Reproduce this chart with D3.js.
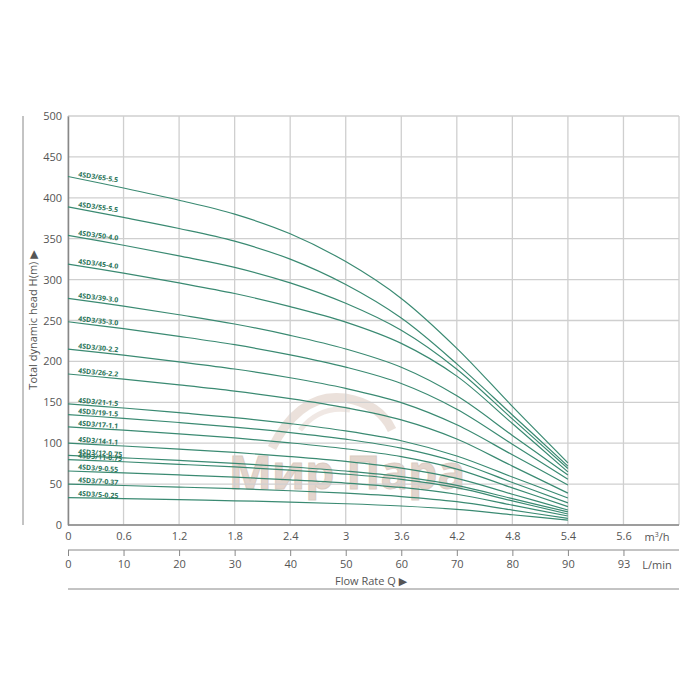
<!DOCTYPE html>
<html><head><meta charset="utf-8">
<script src="https://cdn.jsdelivr.net/npm/d3@7/dist/d3.min.js"></script>
<style>body{margin:0;background:#fff}svg{display:block}text{font-family:"Open Sans","DejaVu Sans",sans-serif}</style>
</head><body><svg id="c" width="700" height="700"></svg>
<script>
const flowQ = [0, 0.6, 1.2, 1.8, 2.4, 3.0, 3.6, 4.2, 4.8, 5.4];
const m3hTicks = ["0","0.6","1.2","1.8","2.4","3","3.6","4.2","4.8","5.4","5.6"];
const lminTicks = ["0","10","20","30","40","50","60","70","80","90","93"];
const headTicks = [0,50,100,150,200,250,300,350,400,450,500];
const models = ["4SD3/65-5.5","4SD3/55-5.5","4SD3/50-4.0","4SD3/45-4.0","4SD3/39-3.0","4SD3/35-3.0","4SD3/30-2.2","4SD3/26-2.2","4SD3/21-1.5","4SD3/19-1.5","4SD3/17-1.1","4SD3/14-1.1","4SD3/12-0.75","4SD3/11-0.75","4SD3/9-0.55","4SD3/7-0.37","4SD3/5-0.25"];
const heads = [
  [426, 412, 397, 380, 356, 322, 277, 216, 145, 76],
  [389, 376, 362.5, 347, 325, 294, 253, 197, 134.5, 72],
  [354, 342, 329, 315, 296, 271, 238, 190.5, 129.7, 69],
  [319, 308, 296, 283, 267, 248, 222, 182, 124, 65],
  [277, 267.6, 257, 245.7, 231.8, 215.2, 192.8, 157.9, 109.5, 61],
  [248.5, 240, 230.6, 220.4, 208, 193, 173, 141.6, 98.8, 56],
  [215, 207.7, 199.5, 190.7, 180, 167, 149.6, 122.5, 85.8, 49],
  [184.6, 178.3, 171.3, 163.7, 154.5, 143.4, 128.5, 105.2, 72, 39],
  [148, 143, 137.3, 131.3, 123.9, 115, 103, 84.4, 58.7, 33],
  [135, 130.4, 125.3, 119.7, 113, 104.9, 94, 77, 52, 27],
  [120, 115.9, 111.4, 106.4, 100.4, 93.2, 83.5, 68.4, 45.4, 22.4],
  [100, 96.6, 92.8, 88.7, 83.7, 77.7, 69.6, 57, 37.6, 18.3],
  [85, 82.1, 78.9, 75.4, 71.1, 66, 59.2, 48.5, 32.2, 16],
  [80, 77.3, 74.2, 71, 67, 62.2, 55.7, 45.6, 29.5, 13.4],
  [66, 63.8, 61.2, 58.5, 55.2, 51.3, 45.9, 37.6, 24.3, 11],
  [50, 48.3, 46.4, 44.4, 41.9, 38.9, 34.8, 28.5, 18.2, 8],
  [33.4, 32.3, 31, 29.6, 28, 26, 23.2, 19, 12.5, 6]
];

const svg = d3.select("#c");
const L = 68, R = 679, T = 116, B = 525;
const x = d3.scaleLinear().domain([0, 6.6]).range([L, R]);
const y = d3.scaleLinear().domain([0, 500]).range([B, T]);
const tickPos = m3hTicks.map((d, i) => i * 0.6);

const lineCol = "#3a8a72", labCol = "#2a7458", gridCol = "#cfcfcf", txtCol = "#555";

// watermark
const wm = svg.append("g").attr("opacity", 0.5);
wm.append("path").attr("d", "M272,448 Q300,392 345,398 Q380,404 392,430")
  .attr("fill", "none").attr("stroke", "#d8c4b8").attr("stroke-width", 9);
wm.append("path").attr("d", "M300,430 Q320,405 350,410")
  .attr("fill", "none").attr("stroke", "#e3d3ca").attr("stroke-width", 5);
wm.append("text").attr("x", 347).attr("y", 489).attr("text-anchor", "middle")
  .attr("font-size", 46).attr("font-weight", "bold").attr("fill", "#c9ad9c")
  .attr("stroke", "#b89a88").attr("stroke-width", 1).text("Мир Пара");

// grid
const g = svg.append("g");
g.selectAll(".vg").data(tickPos.concat([6.6])).enter().append("line")
  .attr("x1", d => x(d)).attr("x2", d => x(d)).attr("y1", T).attr("y2", B)
  .attr("stroke", gridCol).attr("stroke-width", 1.3);
g.selectAll(".hg").data(headTicks).enter().append("line")
  .attr("x1", L).attr("x2", R).attr("y1", d => y(d)).attr("y2", d => y(d))
  .attr("stroke", gridCol).attr("stroke-width", 1.3);

// left axis
const ya = svg.append("g").attr("transform", `translate(${L},0)`)
  .call(d3.axisLeft(y).tickValues(headTicks).tickSize(0).tickPadding(6));
ya.select(".domain").attr("stroke", "#888").attr("stroke-width", 1.5);
ya.selectAll("text").attr("font-size", 11).attr("fill", txtCol).attr("font-family", "Open Sans");

// bottom m3/h axis
const xa = svg.append("g").attr("transform", `translate(0,${B})`)
  .call(d3.axisBottom(x).tickValues(tickPos).tickFormat((d, i) => m3hTicks[i]).tickSize(0).tickPadding(7));
xa.select(".domain").attr("stroke", "#888").attr("stroke-width", 1.5).attr("d", `M${L},0H${R}`);
xa.selectAll("text").attr("font-size", 11).attr("fill", txtCol).attr("font-family", "Open Sans");
svg.append("text").attr("x", 657).attr("y", 541).attr("text-anchor", "middle")
  .attr("font-size", 11).attr("fill", txtCol).html('m<tspan dy="-4" font-size="7">3</tspan><tspan dy="4">/h</tspan>');

// L/min axis
const xb = svg.append("g").attr("transform", `translate(0,550)`)
  .call(d3.axisBottom(x).tickValues(tickPos).tickFormat((d, i) => lminTicks[i]).tickSize(6).tickSizeOuter(0).tickPadding(4));
xb.select(".domain").attr("stroke", "#888").attr("stroke-width", 1).attr("d", `M${L},0H${R}`);
xb.selectAll("line").attr("stroke", "#888");
xb.selectAll("text").attr("font-size", 11).attr("fill", txtCol).attr("font-family", "Open Sans");
svg.append("text").attr("x", 657).attr("y", 569).attr("text-anchor", "middle")
  .attr("font-size", 11).attr("fill", txtCol).text("L/min");
svg.append("text").attr("x", 335).attr("y", 585).attr("font-size", 11).attr("fill", txtCol)
  .text("Flow Rate Q  ▶");
svg.append("line").attr("x1", L).attr("x2", R).attr("y1", 589).attr("y2", 589)
  .attr("stroke", "#888").attr("stroke-width", 1);

// y title
svg.append("text").attr("transform", "translate(37,320) rotate(-90)").attr("text-anchor", "middle")
  .attr("font-size", 11).attr("fill", txtCol).text("Total dynamic head H(m)  ▶");
svg.append("line").attr("x1", 23).attr("x2", 23).attr("y1", T).attr("y2", B)
  .attr("stroke", "#888").attr("stroke-width", 1);

// curves
const line = d3.line().x((d, i) => x(flowQ[i])).y(d => y(d)).curve(d3.curveCatmullRom.alpha(0.5));
svg.append("g").selectAll("path").data(heads).enter().append("path")
  .attr("d", line).attr("fill", "none").attr("stroke", lineCol).attr("stroke-width", 1.2);

// labels
const lab = svg.append("g");
heads.forEach((h, k) => {
  const slope = (y(h[1]) - y(h[0])) / (x(flowQ[1]) - x(flowQ[0]));
  const ang = 3 + 0.45 * Math.atan(slope) * 180 / Math.PI;
  const lx = 78, ly = y(h[0]) + slope * (lx - L) - 2;
  lab.append("text").attr("transform", `translate(${lx},${ly}) rotate(${ang})`)
    .attr("font-size", 7).attr("font-weight", "bold").attr("fill", labCol)
    .text(models[k]);
});
</script></body></html>
